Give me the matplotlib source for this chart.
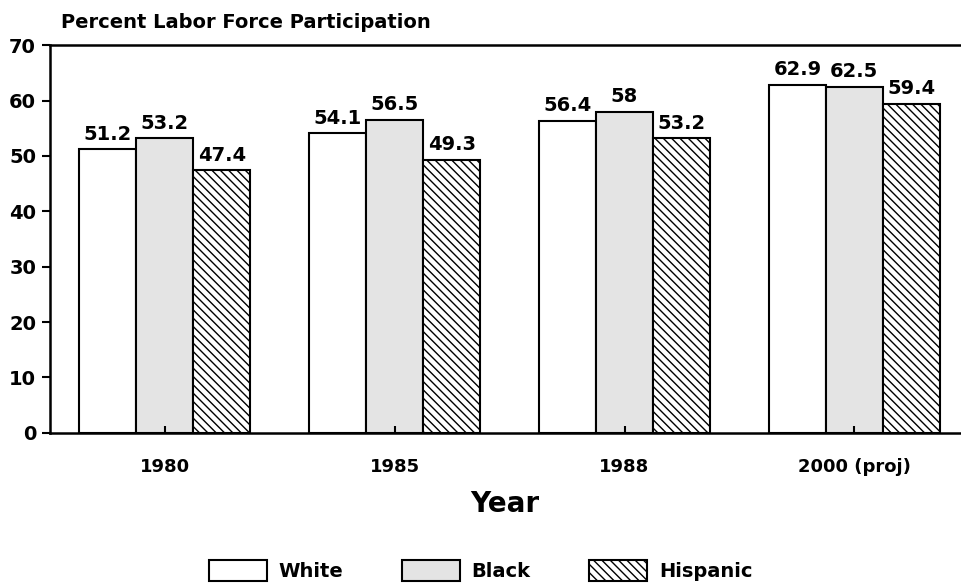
import numpy as np
import matplotlib.pyplot as plt

# data
years = ['1980', '1985', '1988', '2000 (proj)']
white = [51.2, 54.1, 56.4, 62.9]
black = [53.2, 56.5, 58, 62.5]
hispanic = [47.4, 49.3, 53.2, 59.4]
labels_white = ['51.2', '54.1', '56.4', '62.9']
labels_black = ['53.2', '56.5', '58', '62.5']
labels_hispanic = ['47.4', '49.3', '53.2', '59.4']

plt.rcParams['font.family'] = 'DejaVu Sans'
plt.rcParams['font.weight'] = 'bold'
plt.rcParams['hatch.linewidth'] = 1.0

fig = plt.figure(figsize=(9.61, 5.88), dpi=100)
ax = fig.add_axes([0.052, 0.264, 0.947, 0.659])

x = np.arange(len(years))
w = 0.248
b1 = ax.bar(x - w, white, w, color='white', edgecolor='black', linewidth=1.5, label='White')
b2 = ax.bar(x, black, w, color='#e4e4e4', edgecolor='black', linewidth=1.5, label='Black')
b3 = ax.bar(x + w, hispanic, w, color='white', edgecolor='black', linewidth=1.5,
            hatch='\\\\\\\\', label='Hispanic')

for bars, labs in [(b1, labels_white), (b2, labels_black), (b3, labels_hispanic)]:
    for r, t in zip(bars, labs):
        ax.annotate(t, (r.get_x() + r.get_width() / 2, r.get_height()),
                    xytext=(0, 4), textcoords='offset points',
                    ha='center', va='bottom', fontsize=14, fontweight='bold')

ax.set_xlim(-0.5, 3.46)
ax.set_ylim(0, 70)
ax.set_yticks(range(0, 71, 10))
ax.set_xticks(x)
ax.set_xticklabels(years)
ax.tick_params(axis='y', direction='out', length=6, width=1.5, labelsize=14, pad=4)
ax.tick_params(axis='x', direction='in', length=5, width=1.5, labelsize=13, pad=18)
for lab in ax.get_xticklabels() + ax.get_yticklabels():
    lab.set_fontweight('bold')

ax.spines['right'].set_visible(False)
for s in ['left', 'top', 'bottom']:
    ax.spines[s].set_linewidth(1.8)

ax.set_xlabel('Year', fontsize=20, fontweight='bold', labelpad=10)
fig.text(0.063, 0.962, 'Percent Labor Force Participation', fontsize=14,
         fontweight='bold', ha='left', va='center')

fig.legend(handles=[b1, b2, b3], loc='center', bbox_to_anchor=(0.5, 0.03), ncol=3,
           frameon=False, fontsize=14, handlelength=3.0, handleheight=1.3,
           columnspacing=3.0, handletextpad=0.6)

plt.savefig('out.png', dpi=100)
